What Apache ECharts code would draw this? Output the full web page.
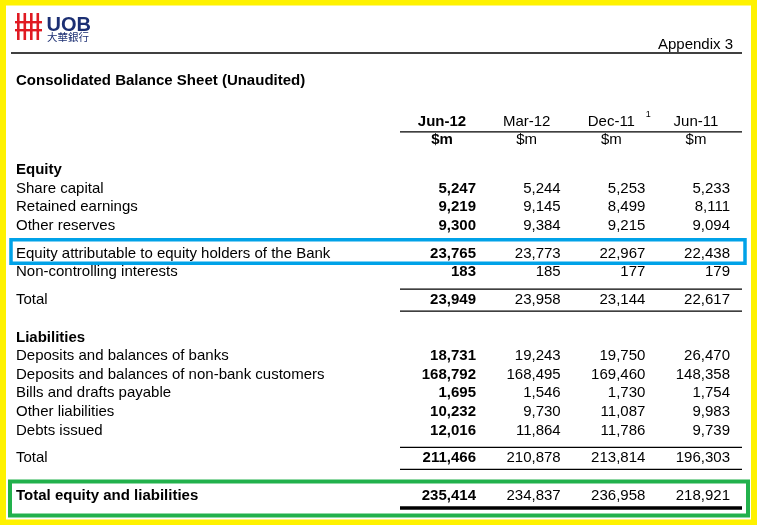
<!DOCTYPE html>
<html>
<head>
<meta charset="utf-8">
<script src="https://cdn.jsdelivr.net/npm/echarts@6/dist/echarts.min.js"></script>
<style>
html,body{margin:0;padding:0;background:#fff;}
#c{width:757px;height:525px;}
</style>
</head>
<body>
<div id="c"></div>
<script>
// ---------------- data ----------------
const periods = ['Jun-12', 'Mar-12', 'Dec-11', 'Jun-11'];
const periodNotes = ['', '', '1', ''];
const units = ['$m', '$m', '$m', '$m'];

const rowLabels = [
  'Equity',
  'Share capital',
  'Retained earnings',
  'Other reserves',
  'Equity attributable to equity holders of the Bank',
  'Non-controlling interests',
  'Total',
  'Liabilities',
  'Deposits and balances of banks',
  'Deposits and balances of non-bank customers',
  'Bills and drafts payable',
  'Other liabilities',
  'Debts issued',
  'Total',
  'Total equity and liabilities'
];
const rowKinds = ['head','item','item','item','hl','item','total','head','item','item','item','item','item','total','grand'];

const jun12 = [null, 5247, 9219, 9300, 23765, 183, 23949, null, 18731, 168792, 1695, 10232, 12016, 211466, 235414];
const mar12 = [null, 5244, 9145, 9384, 23773, 185, 23958, null, 19243, 168495, 1546, 9730, 11864, 210878, 234837];
const dec11 = [null, 5253, 8499, 9215, 22967, 177, 23144, null, 19750, 169460, 1730, 11087, 11786, 213814, 236958];
const jun11 = [null, 5233, 8111, 9094, 22438, 179, 22617, null, 26470, 148358, 1754, 9983, 9739, 196303, 218921];
const seriesValues = [jun12, mar12, dec11, jun11];

// ---------------- layout ----------------
const FONT = "'Liberation Sans', Arial, Helvetica, sans-serif";
const FS = 15;
const extraGap = {head: 2, item: 0, hl: 1, total: 1, grand: 2};
const slots = [];
rowKinds.forEach((k, i) => {
  slots.push(i === 0 ? 0 : slots[i - 1] + 2 + extraGap[k]);
});
const headerSlot = -5.2, unitSlot = -3.2, headerLineSlot = -4.1;

const fmt = v => v == null ? '' : String(v).replace(/\B(?=(\d{3})+(?!\d))/g, ',');

function txt(text, x, y, align, bold, size, fill) {
  return {
    type: 'text',
    style: {
      text: text, x: x, y: y, align: align, verticalAlign: 'middle',
      fontSize: size || FS, fontWeight: bold ? 'bold' : 'normal',
      fontFamily: FONT, fill: fill || '#000'
    }
  };
}

function renderRow(params, api) {
  const s = api.value(1);
  const i = api.value(2);
  const kind = rowKinds[i];
  const p0 = api.coord([0, s]);
  const p3 = api.coord([3, s]);
  const y = p0[1];
  const lineL = p0[0] - 76, lineR = p3[0] + 12;
  const children = [];
  const boldLabel = kind === 'head' || kind === 'grand';
  children.push(txt(rowLabels[i], 16, y, 'left', boldLabel));
  for (let c = 0; c < 4; c++) {
    const v = seriesValues[c][i];
    if (v == null) continue;
    const x = api.coord([c, s])[0];
    children.push(txt(fmt(v), x, y, 'right', c === 0));
  }
  if (kind === 'hl') {
    children.push({type: 'rect', shape: {x: 11, y: y - 14, width: 734, height: 23.5},
      style: {fill: 'none', stroke: '#00a2e8', lineWidth: 3.5}});
  }
  if (kind === 'total') {
    children.push({type: 'line', shape: {x1: lineL, y1: y - 11, x2: lineR, y2: y - 11}, style: {stroke: '#000', lineWidth: 1.3}});
    children.push({type: 'line', shape: {x1: lineL, y1: y + 11, x2: lineR, y2: y + 11}, style: {stroke: '#000', lineWidth: 1.3}});
  }
  if (kind === 'grand') {
    children.push({type: 'line', shape: {x1: lineL, y1: y + 12.5, x2: lineR, y2: y + 12.5}, style: {stroke: '#000', lineWidth: 3.5}});
    children.push({type: 'rect', shape: {x: 10, y: y - 14, width: 738, height: 34},
      style: {fill: 'none', stroke: '#22b14c', lineWidth: 4}});
  }
  return {type: 'group', children: children};
}

function renderHeader(params, api) {
  const c = api.value(0);
  const ph = api.coord([c, headerSlot]);
  const pu = api.coord([c, unitSlot]);
  const cx = ph[0] - 34;
  const children = [];
  children.push(txt(periods[c], cx, ph[1], 'center', c === 0));
  if (periodNotes[c]) {
    children.push(txt(periodNotes[c], cx + 37, ph[1] - 7, 'center', false, 9));
  }
  children.push(txt(units[c], cx, pu[1], 'center', c === 0));
  if (c === 0) {
    const pl = api.coord([0, headerLineSlot]);
    const pr = api.coord([3, headerLineSlot]);
    children.push({type: 'line', shape: {x1: pl[0] - 76, y1: pl[1], x2: pr[0] + 12, y2: pl[1]}, style: {stroke: '#000', lineWidth: 1.3}});
  }
  return {type: 'group', children: children};
}

const chart = echarts.init(document.getElementById('c'), null, {renderer: 'canvas'});
chart.setOption({
  animation: false,
  backgroundColor: '#fff',
  grid: {left: 476, right: 27, top: 114.2, bottom: 20.2, containLabel: false},
  xAxis: {type: 'value', min: 0, max: 3, show: false},
  yAxis: {type: 'value', min: -6, max: 36, inverse: true, show: false},
  graphic: [
    // outer yellow frame
    {type: 'rect', shape: {x: 3, y: 2.5, width: 751, height: 520}, style: {fill: 'none', stroke: '#fff200', lineWidth: 6}, z: 10},
    // logo symbol
    {type: 'rect', shape: {x: 17, y: 13, width: 2.6, height: 27}, style: {fill: '#e01a22'}},
    {type: 'rect', shape: {x: 23.5, y: 13, width: 2.6, height: 27}, style: {fill: '#e01a22'}},
    {type: 'rect', shape: {x: 30, y: 13, width: 2.6, height: 27}, style: {fill: '#e01a22'}},
    {type: 'rect', shape: {x: 36.5, y: 13, width: 2.6, height: 27}, style: {fill: '#e01a22'}},
    {type: 'rect', shape: {x: 15, y: 21, width: 27, height: 2.4}, style: {fill: '#e01a22'}},
    {type: 'rect', shape: {x: 15, y: 29, width: 27, height: 2.4}, style: {fill: '#e01a22'}},
    {type: 'text', style: {text: 'UOB', x: 46.5, y: 25, verticalAlign: 'middle', fontSize: 20, fontWeight: 'bold', fontFamily: FONT, fill: '#1c2f73'}},
    {type: 'text', style: {text: '大華銀行', x: 47, y: 37.5, verticalAlign: 'middle', fontSize: 10.5, fontFamily: "'Noto Sans CJK TC', sans-serif", fill: '#1c2f73'}},
    // header
    {type: 'text', style: {text: 'Appendix 3', x: 733, y: 44.5, align: 'right', verticalAlign: 'middle', fontSize: FS, fontFamily: FONT, fill: '#000'}},
    {type: 'line', shape: {x1: 11, y1: 53, x2: 742, y2: 53}, style: {stroke: '#000', lineWidth: 1.3}},
    {type: 'text', style: {text: 'Consolidated Balance Sheet (Unaudited)', x: 16, y: 81, verticalAlign: 'middle', fontSize: FS, fontWeight: 'bold', fontFamily: FONT, fill: '#000'}}
  ],
  series: [
    {
      type: 'custom',
      clip: false,
      renderItem: renderHeader,
      encode: {x: 0, y: 1},
      data: periods.map((p, c) => [c, headerSlot])
    },
    {
      type: 'custom',
      clip: false,
      renderItem: renderRow,
      encode: {x: 0, y: 1},
      data: rowLabels.map((l, i) => [0, slots[i], i])
    }
  ]
});
</script>
</body>
</html>
